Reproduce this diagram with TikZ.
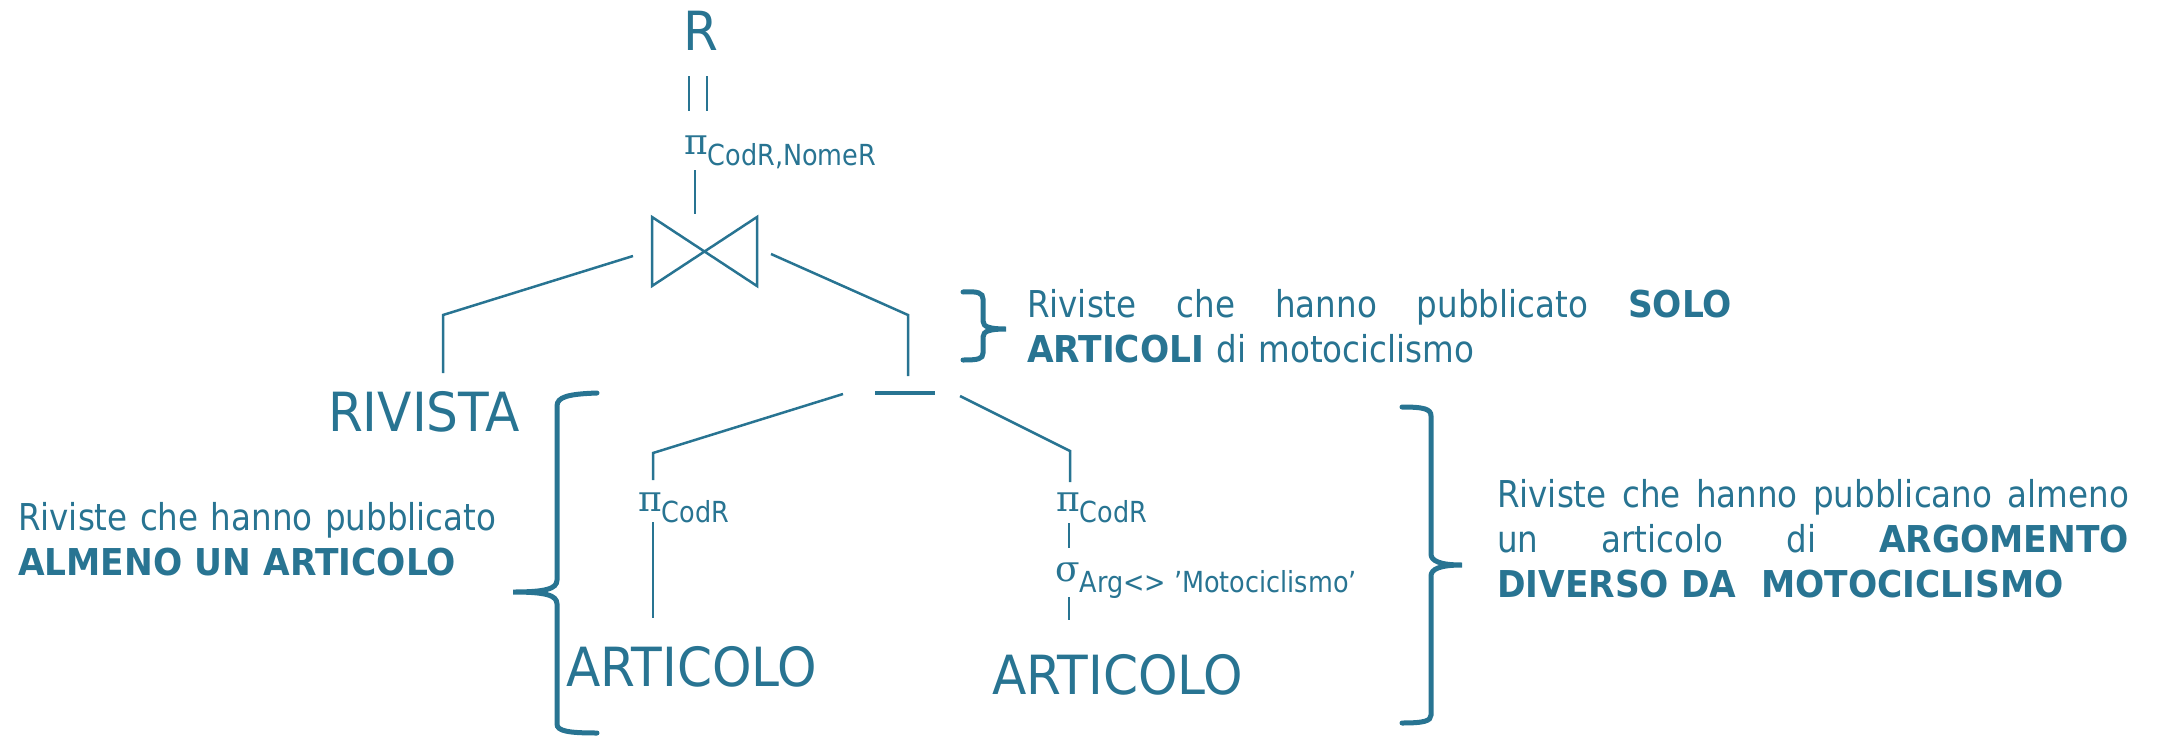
\documentclass[tikz,border=0pt]{standalone}
\usepackage{fontspec}
\setmainfont{DejaVu Sans}[FakeStretch=0.88]
\newfontfamily\bigfam{DejaVu Sans}[FakeStretch=0.93]
\newfontfamily\bfam{DejaVu Sans}[FakeStretch=0.93]
\newfontfamily\grk{DejaVu Serif}
\definecolor{teal1}{RGB}{40,116,146}
\newcommand\opsym[1]{{\grk\fontsize{36}{36}\selectfont #1}}
\newcommand\opsub[1]{\raisebox{-11pt}{\fontsize{29}{30}\selectfont #1}}
\newcommand\B[1]{{\bfam\bfseries #1}}
\newcommand\jline[2]{\leavevmode\hbox to #1{#2}}
\begin{document}
\begin{tikzpicture}[x=1pt,y=-1pt,
  every node/.style={text=teal1, inner sep=0pt, outer sep=0pt},
  conn/.style={draw=teal1, line width=2.5pt},
  brace/.style={draw=teal1, line width=5pt, line cap=round},
  bigf/.style={font=\bigfam\fontsize{54}{60}\selectfont},
  txtf/.style={font=\fontsize{37}{45}\selectfont}]
\useasboundingbox (0,0) rectangle (2159,736);

% relation / result nodes
\node[bigf, anchor=base] (R) at (701,50) {R};
\node[bigf, anchor=base west] (rivista) at (328,431) {RIVISTA};
\node[bigf, anchor=base west] (art1) at (566,686) {ARTICOLO};
\node[bigf, anchor=base west] (art2) at (992,694) {ARTICOLO};

% operators
\node[anchor=base west] (proj) at (684,154) {\opsym{π}\opsub{CodR,NomeR}};
\node[anchor=base west] (pi1) at (638,511) {\opsym{π}\opsub{CodR}};
\node[anchor=base west] (pi2) at (1056,511) {\opsym{π}\opsub{CodR}};
\node[anchor=base west] (sig) at (1055,581) {\opsym{σ}\opsub{Arg<>\ ’Motociclismo’}};

% coordinates
\coordinate (eqA1) at (689,76); \coordinate (eqA2) at (689,111);
\coordinate (eqB1) at (707,76); \coordinate (eqB2) at (707,111);
\coordinate (pj1) at (695,170); \coordinate (pj2) at (695,214);
\coordinate (bt1) at (652,217); \coordinate (bt2) at (652,286);
\coordinate (bt3) at (757,217); \coordinate (bt4) at (757,286);
\coordinate (jl) at (633,256); \coordinate (jlk) at (443,315); \coordinate (jle) at (443,373);
\coordinate (jr) at (771,254); \coordinate (jrk) at (908,315); \coordinate (jre) at (908,376);
\coordinate (m1) at (875,393); \coordinate (m2) at (935,393);
\coordinate (dl) at (843,394); \coordinate (dlk) at (653,453); \coordinate (dle) at (653,480);
\coordinate (p1a) at (653,522); \coordinate (p1b) at (653,618);
\coordinate (dr) at (960,396); \coordinate (drk) at (1070,451); \coordinate (dre) at (1070,482);
\coordinate (p2a) at (1069,523); \coordinate (p2b) at (1069,548);
\coordinate (s1a) at (1069,597); \coordinate (s1b) at (1069,620);

% connectors
\draw[conn] (eqA1) -- (eqA2);
\draw[conn] (eqB1) -- (eqB2);
\draw[conn] (pj1) -- (pj2);
\draw[conn, line join=miter] (bt1) -- (bt2) -- (bt3) -- (bt4) -- cycle;
\draw[conn] (jl) -- (jlk) -- (jle);
\draw[conn] (jr) -- (jrk) -- (jre);
\draw[draw=teal1, line width=4.5pt] (m1) -- (m2);
\draw[conn] (dl) -- (dlk) -- (dle);
\draw[conn] (p1a) -- (p1b);
\draw[conn] (dr) -- (drk) -- (dre);
\draw[conn] (p2a) -- (p2b);
\draw[conn] (s1a) -- (s1b);

% braces
\draw[brace] (963,292) .. controls (978,291) and (983,293) .. (983,299) -- (983,321)
  .. controls (983,327) and (990,329) .. (1006,329)
  .. controls (990,329) and (983,331) .. (983,337) -- (983,353)
  .. controls (983,359) and (978,360) .. (963,360);
\draw[brace] (597,393) .. controls (568,394) and (557,397) .. (557,406) -- (557,580)
  .. controls (557,589) and (545,592) .. (513,592)
  .. controls (545,592) and (557,595) .. (557,604) -- (557,724)
  .. controls (557,731) and (568,733) .. (597,733);
\draw[brace] (1402,407) .. controls (1424,407) and (1431,409) .. (1431,416) -- (1431,554)
  .. controls (1431,561) and (1440,565) .. (1462,565)
  .. controls (1440,565) and (1431,569) .. (1431,576) -- (1431,715)
  .. controls (1431,721) and (1424,723) .. (1402,723);

% annotation texts
\node[txtf, anchor=base west, text width=705pt] (solo) at (1027,317)
  {\jline{705pt}{Riviste\hfill che\hfill hanno\hfill pubblicato\hfill \B{SOLO}}\\
   \B{ARTICOLI} di motociclismo};
\node[txtf, anchor=base west, text width=480pt] (almeno) at (18,530)
  {Riviste che hanno pubblicato\\ \B{ALMENO UN ARTICOLO}};
\node[txtf, anchor=base west, text width=632pt] (diverso) at (1497,507)
  {\jline{632pt}{Riviste\hfill che\hfill hanno\hfill pubblicano\hfill almeno}\\
   \jline{632pt}{un\hfill articolo\hfill di\hfill \B{ARGOMENTO}}\\
   \B{DIVERSO DA\ \ MOTOCICLISMO}};
\end{tikzpicture}
\end{document}
